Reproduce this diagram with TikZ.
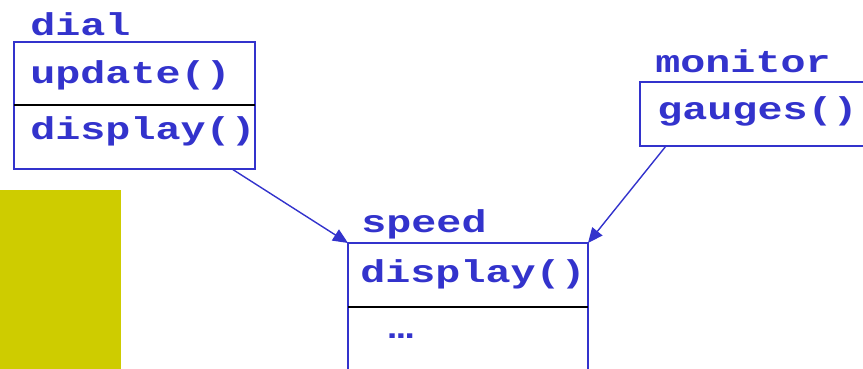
\documentclass[tikz,border=0pt]{standalone}
\usepackage{fontspec}
\newfontfamily\courfont[FakeStretch=1.32]{Liberation Mono}
\usetikzlibrary{arrows.meta}
\definecolor{umlblue}{RGB}{51,51,204}
\definecolor{olive}{RGB}{206,204,0}
\tikzset{
  lbl/.style={anchor=base west, inner sep=0pt, text=umlblue, font=\courfont\bfseries\fontsize{15.8}{19}\selectfont},
  classbox/.style={draw=umlblue, line width=1pt, fill=none, inner sep=0pt},
  divider/.style={draw=black, line width=1pt},
  assoc/.style={draw=umlblue, line width=0.7pt, -{Triangle[length=7.5pt,width=6.5pt]}}
}
\begin{document}
\begin{tikzpicture}[x=0.5pt,y=-0.5pt]
\useasboundingbox (0,0) rectangle (863,369);
% yellow block
\fill[olive] (0,190) rectangle (121,369);
% dial class
\node[classbox, minimum width=120.5pt, minimum height=63.5pt] (dialbox) at (134.5,105.5) {};
\draw[divider] (14,105) -- (255,105);
\node[lbl] (dialname) at (30,36) {dial};
\node[lbl] (dialupd) at (30,84) {update()};
\node[lbl] (dialdisp) at (30,140) {display()};
% speed class
\draw[classbox] (348,380) -- (348,243) coordinate (spNW) -- (588,243) coordinate (spNE) -- (588,380);
\draw[divider] (348,307) -- (588,307);
\node[lbl] (speedname) at (361,233) {speed};
\node[lbl] (speeddisp) at (360,283) {display()};
\node[lbl] (speeddots) at (388,338) {…};
% monitor class
\draw[classbox] (866,82) -- (640,82) -- (640,146) -- (866,146);
\coordinate (monBot) at (666,146);
\node[lbl] (monname) at (655,73) {monitor};
\node[lbl] (mongauge) at (657,120) {gauges()};
% connectors
\coordinate (dialBot) at (232,169);
\draw[assoc] (dialBot) -- (spNW);
\draw[assoc] (monBot) -- (spNE);
\end{tikzpicture}
\end{document}
